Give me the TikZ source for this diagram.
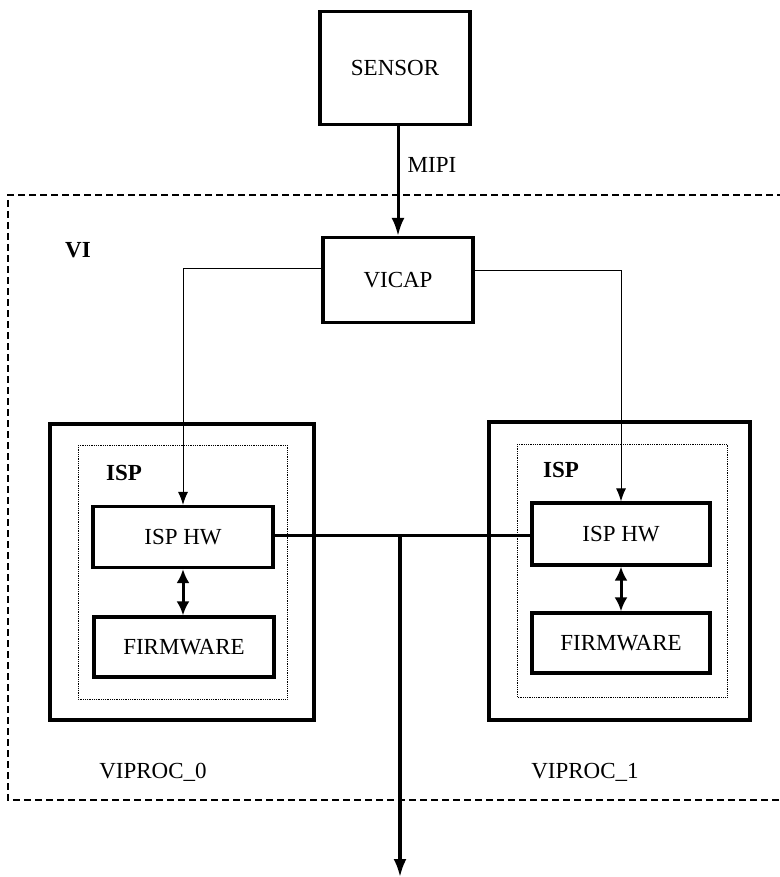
\documentclass[tikz,border=0pt]{standalone}
\usepackage{fontspec}
\setmainfont{Liberation Serif}
\usetikzlibrary{arrows.meta}

\tikzset{
    blk/.style={draw, line width=3.2pt, minimum width=#1, inner sep=0pt, font=\fontsize{23}{27}\selectfont},
    lbl/.style={font=\fontsize{23}{27}\selectfont, inner sep=0pt},
    bold lbl/.style={font=\fontsize{23}{27}\selectfont\bfseries, inner sep=0pt},
    feed/.style={line width=1pt, -{Latex[length=13pt, width=10pt]}},
    link/.style={line width=3pt, {Latex[length=14pt, width=13pt]}-{Latex[length=14pt, width=13pt]}}
}

\begin{document}
\begin{tikzpicture}[x=1pt, y=-1pt]

    \useasboundingbox (0, 0) rectangle (779, 877);

    % VI region (runs off the right edge)
    \draw[line width=1.6pt, dash pattern=on 7pt off 4pt] (795, 195) -- (8, 195) -- (8, 800) -- (795, 800);
    \node[bold lbl] (vi) at (78, 250) {VI};

    % Sensor and capture
    \node[blk=150pt, minimum height=113pt] (sensor) at (395, 68) {SENSOR};
    \node[blk=150pt, minimum height=85pt] (vicap) at (398, 280) {VICAP};
    \draw[line width=3pt, -{Latex[length=18pt, width=13pt]}] (sensor.south -| vicap.north) -- (vicap.north);
    \node[lbl] (mipi) at (432, 165) {MIPI};

    % VIPROC_0
    \draw[line width=3.4pt] (50, 424) rectangle (314, 720);
    \draw[line width=0.8pt, densely dotted] (78, 445) rectangle (287, 699);
    \node[bold lbl] (isp0) at (124, 473) {ISP};
    \node[blk=180pt, minimum height=61pt] (isphw0) at (183, 537) {ISP HW};
    \node[blk=180pt, minimum height=60pt] (fw0) at (184, 647) {FIRMWARE};
    \draw[link] (isphw0.south) -- (isphw0.south |- fw0.north);
    \node[lbl] (viproc0) at (153, 772) {VIPROC\_0};

    % VIPROC_1
    \draw[line width=3.4pt] (489, 422) rectangle (750, 720);
    \draw[line width=0.8pt, densely dotted] (517, 444) rectangle (727, 697);
    \node[bold lbl] (isp1) at (561, 470) {ISP};
    \node[blk=178pt, minimum height=62pt] (isphw1) at (621, 534) {ISP HW};
    \node[blk=178pt, minimum height=60pt] (fw1) at (621, 643) {FIRMWARE};
    \draw[link] (isphw1.south) -- (isphw1.south |- fw1.north);
    \node[lbl] (viproc1) at (585, 772) {VIPROC\_1};

    % VICAP feeds
    \draw[feed] ([yshift=12pt]vicap.west) -| (isphw0.north);
    \draw[feed] ([yshift=10pt]vicap.east) -| (isphw1.north);

    % Shared output bus
    \coordinate (bus) at (400, 535);
    \coordinate (out) at (400, 877);
    \draw[line width=3pt] (isphw0.east |- bus) -- (isphw1.west |- bus);
    \draw[line width=3.2pt, -{Latex[length=18pt, width=13pt]}] (bus) -- (out);

\end{tikzpicture}
\end{document}
